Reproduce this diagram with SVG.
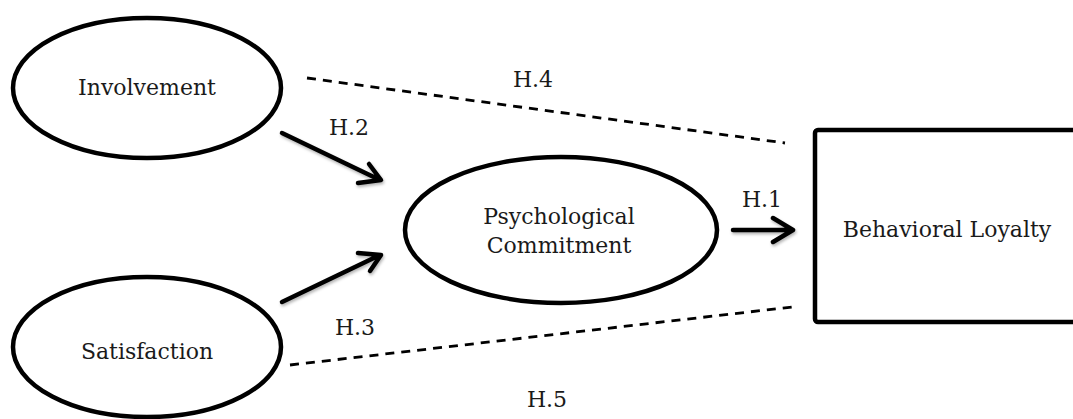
<svg xmlns="http://www.w3.org/2000/svg" width="1073" height="419" viewBox="0 0 1073 419">
<style>
.node{fill:#fff;stroke:#000;stroke-width:4.5}
.lbl{font-family:"DejaVu Serif","Liberation Serif",serif;font-size:22px;fill:#1a1a1a;text-anchor:middle}
.arr{fill:none;stroke:#000;stroke-width:4.5;stroke-linecap:round;stroke-linejoin:round}
.dash{fill:none;stroke:#000;stroke-width:2.8;stroke-dasharray:9 7}
</style>
<defs>
<filter id="sh" x="-20%" y="-20%" width="140%" height="140%">
<feDropShadow dx="1" dy="2" stdDeviation="1.5" flood-color="#000" flood-opacity="0.3"/>
</filter>
</defs>
<rect width="1073" height="419" fill="#fff"/>
<g id="connectors">
<path class="dash" d="M307,78 L785,143"/>
<path class="dash" d="M290,365 L792,307"/>
<g filter="url(#sh)">
<path class="arr" d="M282,133 L380,180 M369,164 L381,180 L358,183"/>
<path class="arr" d="M282,302 L380,255 M358,253 L381,255 L370,271"/>
<path class="arr" d="M733,230 L792,230 M773,218 L793,230 L773,242"/>
</g>
<text class="lbl" x="349" y="135">H.2</text>
<text class="lbl" x="533" y="87">H.4</text>
<text class="lbl" x="762" y="207">H.1</text>
<text class="lbl" x="355" y="335">H.3</text>
<text class="lbl" x="547" y="407">H.5</text>
</g>
<g id="involvement">
<ellipse class="node" cx="147" cy="88" rx="134" ry="70"/>
<text class="lbl" x="147" y="95">Involvement</text>
</g>
<g id="satisfaction">
<ellipse class="node" cx="147" cy="347" rx="134" ry="70"/>
<text class="lbl" x="147" y="359">Satisfaction</text>
</g>
<g id="commitment">
<ellipse class="node" cx="561" cy="230" rx="156" ry="73"/>
<text class="lbl" x="559" y="224">Psychological</text>
<text class="lbl" x="559" y="253">Commitment</text>
</g>
<g id="loyalty">
<rect class="node" x="815" y="130" width="270" height="192" rx="3"/>
<text class="lbl" x="947" y="237">Behavioral Loyalty</text>
</g>
</svg>
